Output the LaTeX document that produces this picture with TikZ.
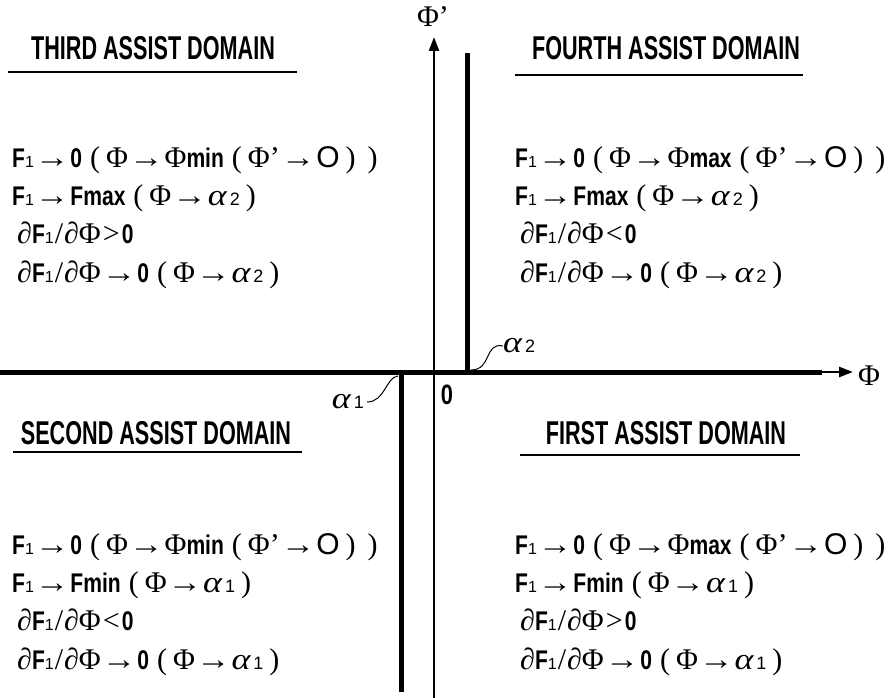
\documentclass[tikz,border=0pt]{standalone}
\usepackage{fontspec}
\setmainfont{Liberation Serif}
\newfontfamily\cond[FakeStretch=0.78]{Liberation Sans}
\newfontfamily\ttlfont[FakeStretch=0.655]{Liberation Sans}
\newfontfamily\sym{Liberation Serif}
\newfontfamily\symsans{Liberation Sans}
\usetikzlibrary{arrows.meta}
\newcommand\Bf[1]{{\fontsize{27}{30}\selectfont\cond\bfseries #1}}
\newcommand\Sy[1]{{\fontsize{30}{30}\selectfont\sym #1}}
\newcommand\sub[1]{{\fontsize{16}{16}\selectfont\symsans #1}}
\newcommand\asub[1]{{\fontsize{18}{18}\selectfont\symsans #1}}
\newcommand\Fo{\Bf{F}\sub{1}}
\newcommand\ra{\kern1pt\scalebox{1.15}[1]{\Sy{→}}\kern1pt}
\newcommand\Ph{\Sy{Φ}}
\newcommand\al[1]{\scalebox{1.2}[1]{\fontsize{30}{30}\selectfont\sym\itshape α}\kern3pt\asub{#1}}
\newcommand\lp{\hspace{8pt}\Sy{(}\hspace{6pt}}
\newcommand\rp{\hspace{6pt}\Sy{)}\hspace{6pt}}
\newcommand\pd{\Sy{∂}}
\newcommand\sla{\kern1pt\Sy{/}\kern1pt}
\begin{document}
\begin{tikzpicture}[x=1pt,y=-1pt,
  txt/.style={inner sep=0pt, anchor=base west, font=\fontsize{24}{28}\selectfont},
  ttl/.style={inner sep=0pt, anchor=base, font=\fontsize{33}{36}\selectfont\ttlfont\bfseries},
  uline/.style={line width=1.5pt},
  thickln/.style={line width=5pt},
  axis/.style={line width=2.5pt, -{Triangle[length=14pt,width=10pt]}},
  lead/.style={line width=1pt}]
\useasboundingbox (0,0) rectangle (896,698);
% titles
\node[ttl] (t3) at (153,60) {THIRD ASSIST DOMAIN};
\node[ttl] (t4) at (666,60) {FOURTH ASSIST DOMAIN};
\node[ttl] (t2) at (156,444) {SECOND ASSIST DOMAIN};
\node[ttl] (t1) at (666,444) {FIRST ASSIST DOMAIN};
\draw[uline] (8,72) -- (297,72);
\draw[uline] (515,75) -- (803,75);
\draw[uline] (13,452) -- (302,452);
\draw[uline] (520,455) -- (800,455);
% third domain
\node[txt] (a1) at (12,167) {\Fo\ra\Bf{0}\lp\Ph\ra\Ph\Bf{min}\lp\Ph\Sy{’}\ra\Sy{\symsans O}\rp\rp};
\node[txt] (a2) at (12,205) {\Fo\ra\Bf{Fmax}\lp\Ph\ra\al{2}\rp};
\node[txt] (a3) at (17,243) {\pd\Bf{F}\sub{1}\sla\pd\Ph\kern2pt\Sy{>}\kern2pt\Bf{0}};
\node[txt] (a4) at (17,282) {\pd\Bf{F}\sub{1}\sla\pd\Ph\ra\Bf{0}\lp\Ph\ra\al{2}\rp};
% fourth domain
\node[txt] (b1) at (515,167) {\Fo\ra\Bf{0}\lp\Ph\ra\Ph\Bf{max}\lp\Ph\Sy{’}\ra\Sy{\symsans O}\rp\rp};
\node[txt] (b2) at (515,205) {\Fo\ra\Bf{Fmax}\lp\Ph\ra\al{2}\rp};
\node[txt] (b3) at (520,243) {\pd\Bf{F}\sub{1}\sla\pd\Ph\kern2pt\Sy{<}\kern2pt\Bf{0}};
\node[txt] (b4) at (520,282) {\pd\Bf{F}\sub{1}\sla\pd\Ph\ra\Bf{0}\lp\Ph\ra\al{2}\rp};
% second domain
\node[txt] (c1) at (12,554) {\Fo\ra\Bf{0}\lp\Ph\ra\Ph\Bf{min}\lp\Ph\Sy{’}\ra\Sy{\symsans O}\rp\rp};
\node[txt] (c2) at (12,592) {\Fo\ra\Bf{Fmin}\lp\Ph\ra\al{1}\rp};
\node[txt] (c3) at (17,630) {\pd\Bf{F}\sub{1}\sla\pd\Ph\kern2pt\Sy{<}\kern2pt\Bf{0}};
\node[txt] (c4) at (17,669) {\pd\Bf{F}\sub{1}\sla\pd\Ph\ra\Bf{0}\lp\Ph\ra\al{1}\rp};
% first domain
\node[txt] (d1) at (515,554) {\Fo\ra\Bf{0}\lp\Ph\ra\Ph\Bf{max}\lp\Ph\Sy{’}\ra\Sy{\symsans O}\rp\rp};
\node[txt] (d2) at (515,592) {\Fo\ra\Bf{Fmin}\lp\Ph\ra\al{1}\rp};
\node[txt] (d3) at (520,630) {\pd\Bf{F}\sub{1}\sla\pd\Ph\kern2pt\Sy{>}\kern2pt\Bf{0}};
\node[txt] (d4) at (520,669) {\pd\Bf{F}\sub{1}\sla\pd\Ph\ra\Bf{0}\lp\Ph\ra\al{1}\rp};
% axes
\coordinate (vbot) at (434,698);
\coordinate (vtop) at (434,37);
\coordinate (hleft) at (0,372);
\coordinate (hmid) at (822,372);
\coordinate (hend) at (853,372);
\coordinate (r2top) at (467,53);
\coordinate (r2bot) at (467,372);
\coordinate (l1top) at (401,372);
\coordinate (l1bot) at (401,692);
\draw[axis] (vbot) -- (vtop);
\draw[thickln] (hleft) -- (hmid);
\draw[axis] ([xshift=-2pt]hmid) -- (hend);
\draw[thickln] (r2top) -- (r2bot);
\draw[thickln] (l1top) -- (l1bot);
\node[inner sep=0pt] (phip) at (433,17) {\Ph\Sy{’}};
\node[inner sep=0pt, anchor=west] (phi) at (858,376) {\Ph};
\node[font=\fontsize{28}{28}\selectfont\cond\bfseries, inner sep=0pt] (zero) at (447,395) {0};
% alpha labels
\node[inner sep=0pt, anchor=west] (al2) at (503,346) {\al{2}};
\node[inner sep=0pt, anchor=east] (al1) at (364,402) {\al{1}};
\coordinate (l2a) at (471,370);
\coordinate (l1a) at (398,376);
\draw[lead] (l2a) .. controls (492,370) and (484,342) .. (al2.west);
\draw[lead] ([xshift=3pt]al1.east) .. controls (385,402) and (386,377) .. (l1a);
\end{tikzpicture}
\end{document}
